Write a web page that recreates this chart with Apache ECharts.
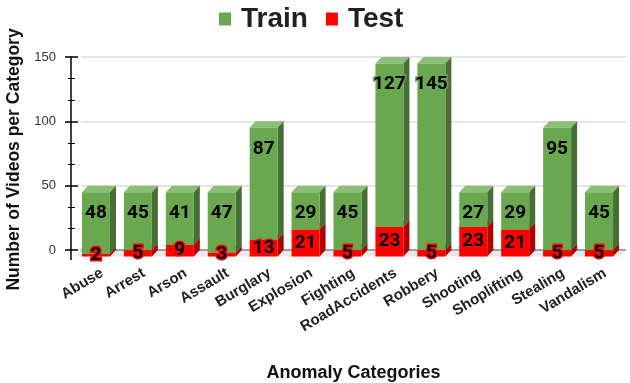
<!DOCTYPE html>
<html lang="en">
<head>
  <meta charset="UTF-8">
  <title>echarts</title>
  <script src="https://cdn.jsdelivr.net/npm/echarts@6.0.0/dist/echarts.min.js"></script>
  <style>
    html, body { padding: 0; margin: 0; background: #fff; }
    #chart { width: 630px; height: 383px; }
  </style>
</head>
<body>
  <div id="chart"></div>
  <script>
    const categories = ['Abuse', 'Arrest', 'Arson', 'Assault', 'Burglary', 'Explosion', 'Fighting',
      'RoadAccidents', 'Robbery', 'Shooting', 'Shoplifting', 'Stealing', 'Vandalism']
    const trainValues = [48, 45, 41, 47, 87, 29, 45, 127, 145, 27, 29, 95, 45]
    const testValues = [2, 5, 9, 3, 13, 21, 5, 23, 5, 23, 21, 5, 5]

    // 3D look: front face shifted left/down from the axis plane
    const DX = 6, DY = 6.5, HW = 14

    function barRenderer(faces, labelStroke, labelAtTop) {
      return function (params, api) {
        const i = api.value(0)
        const lo = api.coord([i, api.value(1)])
        const hi = api.coord([i, api.value(2)])
        const cx = lo[0]
        const fl = cx - DX - HW, fr = cx - DX + HW
        const ft = hi[1] + DY, fb = lo[1] + DY
        const children = [
          { type: 'polygon', shape: { points: [[fl, ft], [fr, ft], [fr + DX, ft - DY], [fl + DX, ft - DY]] }, style: { fill: faces.top } },
          { type: 'polygon', shape: { points: [[fr, ft], [fr + DX, ft - DY], [fr + DX, fb - DY], [fr, fb]] }, style: { fill: faces.side } },
          { type: 'rect', shape: { x: fl, y: ft, width: fr - fl, height: fb - ft }, style: { fill: faces.front } },
          {
            type: 'text', z2: 10,
            style: {
              text: String(api.value(3)),
              x: (fl + fr) / 2,
              y: labelAtTop ? ft + 21 : (ft + fb) / 2,
              align: 'center', verticalAlign: 'middle',
              font: 'bold 19px Roboto',
              fill: '#000', stroke: labelStroke, lineWidth: 3
            }
          }
        ]
        return { type: 'group', children: children }
      }
    }

    const testData = categories.map((c, i) => [i, 0, testValues[i], testValues[i]])
    const trainData = categories.map((c, i) => [i, testValues[i], testValues[i] + trainValues[i], trainValues[i]])

    const axisFont = { fontFamily: 'Liberation Sans', fontWeight: 'bold', fontSize: 18, color: '#111' }

    const chart = echarts.init(document.getElementById('chart'))
    chart.setOption({
      animation: false,
      legend: {
        data: ['Train', 'Test'],
        top: 0,
        left: 214,
        icon: 'rect',
        itemWidth: 12, itemHeight: 13,
        itemGap: 18,
        textStyle: { fontFamily: 'Liberation Sans', fontWeight: 'bold', fontSize: 28, color: '#222', padding: [0, 0, 0, 5] }
      },
      grid: { left: 81, right: 4, top: 57, bottom: 133, outerBoundsMode: 'none', containLabel: false },
      xAxis: {
        type: 'category',
        data: categories,
        axisLine: { show: false },
        axisTick: { show: false },
        axisLabel: {
          rotate: 31, margin: 22, interval: 0,
          fontFamily: 'Liberation Sans', fontWeight: 'bold', fontSize: 15, color: '#222'
        },
        name: 'Anomaly Categories',
        nameLocation: 'middle',
        nameGap: 114,
        nameTextStyle: axisFont
      },
      yAxis: [{
        type: 'value',
        min: 0, max: 150, interval: 50,
        offset: 10,
        axisLine: { show: true, lineStyle: { color: '#000', width: 1.5 } },
        axisTick: { show: true, length: 6, lineStyle: { color: '#000', width: 1.5 } },
        minorTick: { show: true, splitNumber: 3, length: 3, lineStyle: { color: '#000', width: 1 } },
        splitLine: { lineStyle: { color: '#dcdcdc', width: 1.5 } },
        axisLabel: { margin: 15, fontFamily: 'Liberation Sans', fontSize: 13, color: '#333' },
        name: 'Number of Videos per Category',
        nameLocation: 'middle',
        nameGap: 41,
        nameTextStyle: Object.assign({}, axisFont, { fontSize: 17.5, padding: [0, 12, 0, 0] })
      }, {
        // inner half of the crossing ticks
        type: 'value',
        position: 'left',
        min: 0, max: 150, interval: 50,
        offset: 10,
        axisLine: { show: false },
        axisTick: { show: true, inside: true, length: 7, lineStyle: { color: '#000', width: 1.5 } },
        minorTick: { show: true, splitNumber: 3, length: 4, lineStyle: { color: '#000', width: 1 } },
        splitLine: { show: false },
        axisLabel: { show: false }
      }],
      series: [
        {
          type: 'custom',
          name: 'floor',
          silent: true,
          data: [[0]],
          renderItem: function (params, api) {
            const cs = params.coordSys
            const y0 = cs.y + cs.height
            return {
              type: 'group',
              children: [
                { type: 'polygon', shape: { points: [[cs.x, y0], [cs.x + cs.width, y0], [cs.x + cs.width - DX, y0 + DY], [cs.x - DX, y0 + DY]] }, style: { fill: '#e8e8e8' } },
                { type: 'line', shape: { x1: cs.x, y1: y0, x2: cs.x + cs.width, y2: y0 }, style: { stroke: '#8a8a8a', lineWidth: 1.5 } },
                { type: 'line', shape: { x1: cs.x - 10, y1: y0, x2: cs.x - 10, y2: y0 + 10 }, style: { stroke: '#000', lineWidth: 1.5 } }
              ]
            }
          }
        },
        {
          type: 'custom',
          name: 'Test',
          itemStyle: { color: '#ff0000' },
          encode: { x: 0, y: [1, 2] },
          data: testData,
          renderItem: barRenderer({ front: '#ff0000', top: '#ff4040', side: '#b00000' }, '#ff0000', false)
        },
        {
          type: 'custom',
          name: 'Train',
          itemStyle: { color: '#6aa84f' },
          encode: { x: 0, y: [1, 2] },
          data: trainData,
          renderItem: barRenderer({ front: '#6aa84f', top: '#8cbf75', side: '#476f35' }, '#6aa84f', true)
        }
      ]
    })
  </script>
</body>
</html>
